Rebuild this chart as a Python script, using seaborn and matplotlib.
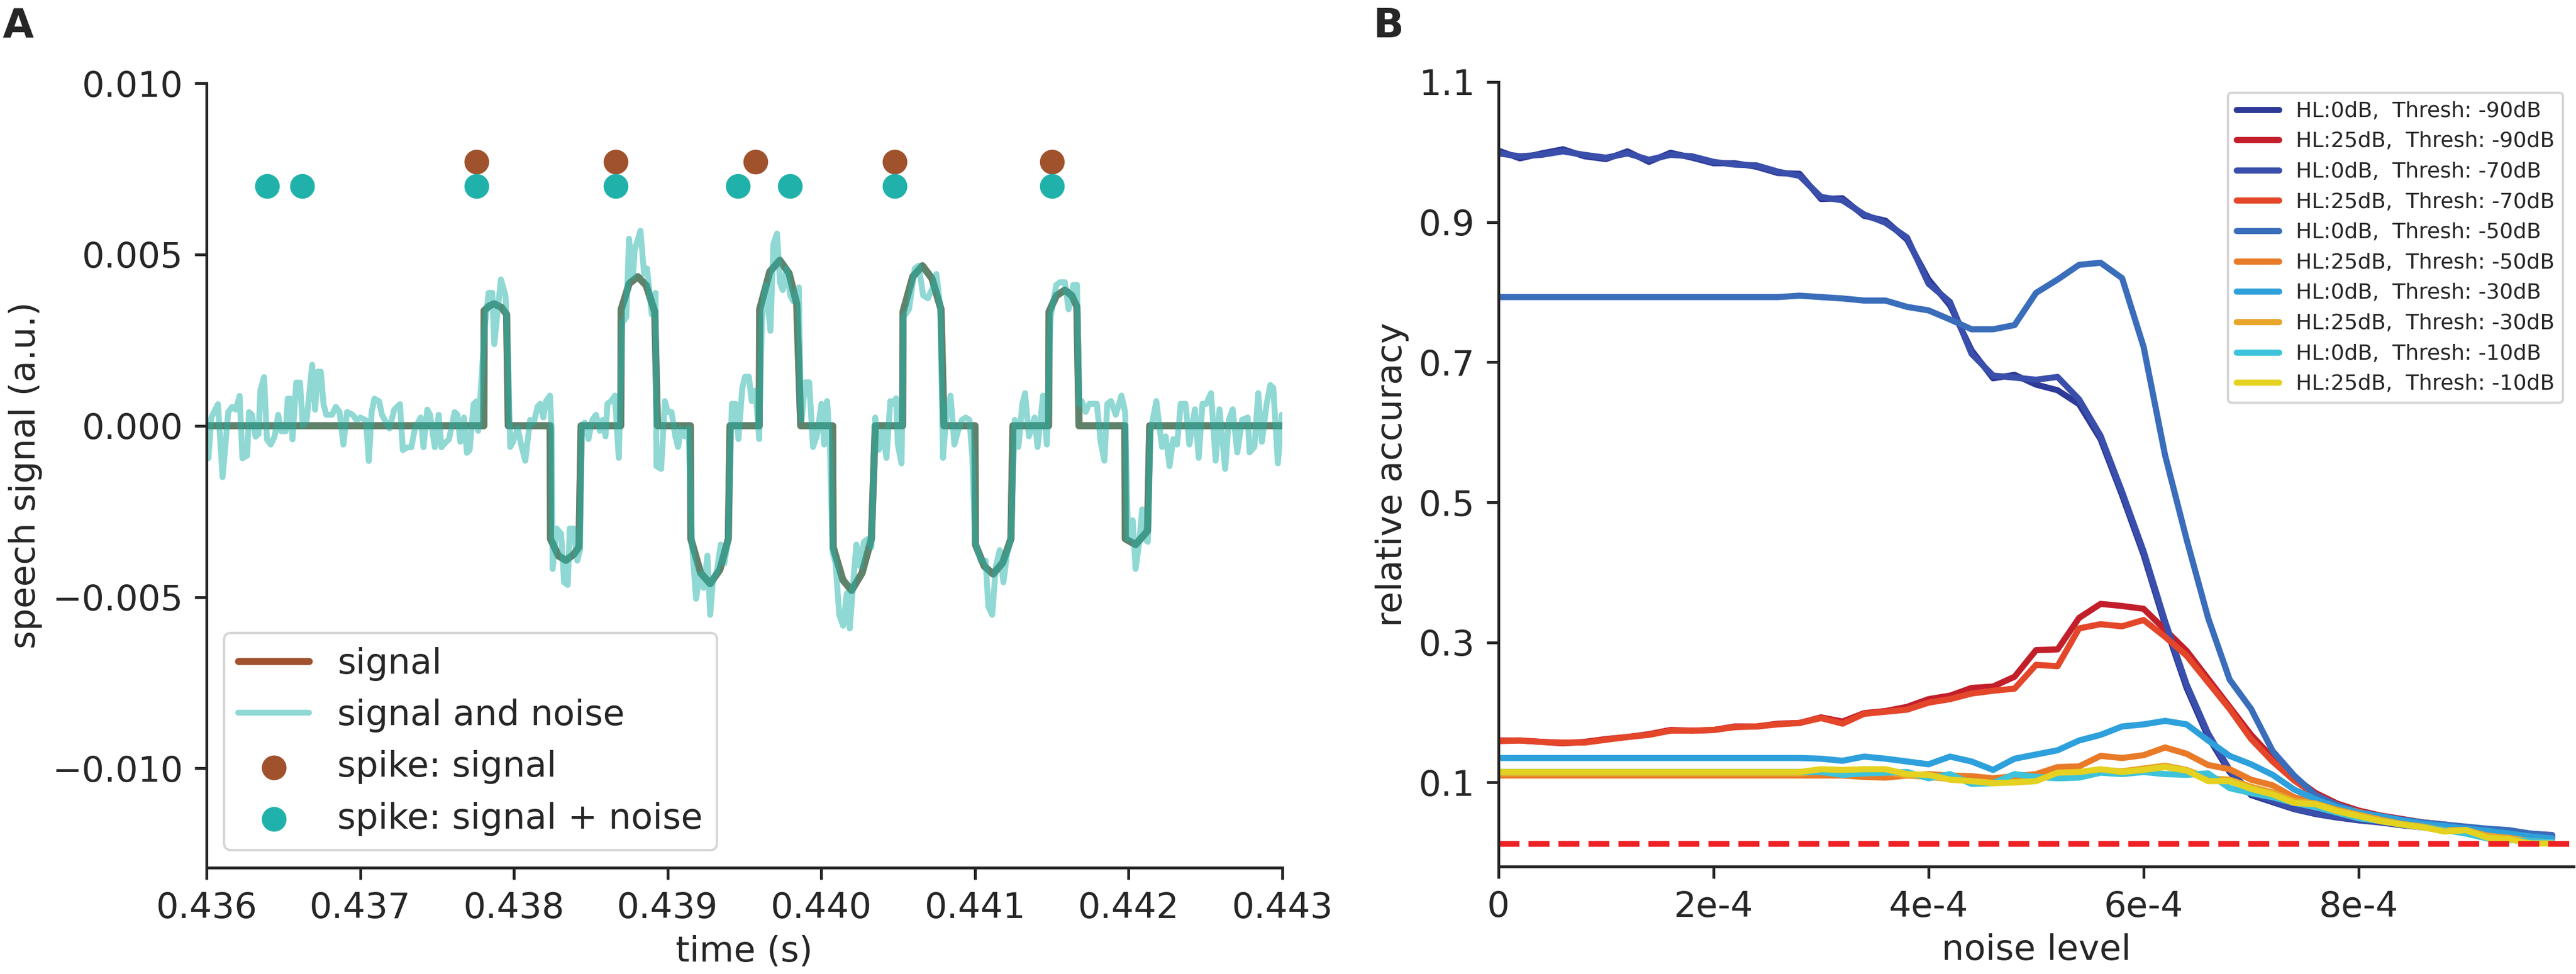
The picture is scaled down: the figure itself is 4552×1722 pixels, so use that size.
import numpy as np
import pandas as pd
import matplotlib
matplotlib.use('Agg')
import matplotlib.pyplot as plt
import seaborn as sns

# ---- panel A: speech signal (time in ms, amplitude in 1e-3 a.u.) ----
sig_t = [436.000, 437.804, 437.806, 437.840, 437.871, 437.920, 437.952, 437.963,
         438.235, 438.238, 438.290, 438.338, 438.390, 438.423, 438.437,
         438.695, 438.698, 438.750, 438.806, 438.860, 438.916, 438.934,
         439.148, 439.151, 439.215, 439.277, 439.340, 439.395, 439.406,
         439.596, 439.599, 439.665, 439.730, 439.790, 439.840, 439.866,
         440.074, 440.077, 440.140, 440.197, 440.265, 440.326, 440.351,
         440.529, 440.532, 440.595, 440.658, 440.720, 440.779, 440.798,
         441.000, 441.003, 441.060, 441.118, 441.180, 441.234, 441.247,
         441.479, 441.482, 441.530, 441.585, 441.630, 441.663, 441.677,
         441.975, 441.978, 442.045, 442.123, 442.137, 443.000]
sig_v = [0, 0, 3.36, 3.50, 3.56, 3.45, 3.25, 0,
         0, -3.31, -3.80, -3.93, -3.75, -3.54, 0,
         0, 3.40, 4.15, 4.35, 4.10, 3.33, 0,
         0, -3.30, -4.30, -4.61, -4.20, -3.30, 0,
         0, 3.40, 4.50, 4.83, 4.45, 3.56, 0,
         0, -3.54, -4.50, -4.81, -4.30, -3.30, 0,
         0, 3.33, 4.35, 4.67, 4.30, 3.40, 0,
         0, -3.47, -4.10, -4.33, -4.00, -3.30, 0,
         0, 3.33, 3.80, 3.96, 3.80, 3.48, 0,
         0, -3.30, -3.47, -3.07, 0, 0]

noisy_t = [436.000, 436.012, 436.031, 436.074, 436.104, 436.141, 436.166, 436.190, 436.215, 436.233,
           436.264, 436.276, 436.295, 436.319, 436.338, 436.350, 436.374, 436.393, 436.417, 436.442,
           436.466, 436.485, 436.515, 436.528, 436.546, 436.559, 436.583, 436.608, 436.626, 436.651,
           436.687, 436.706, 436.724, 436.743, 436.761, 436.779, 436.816, 436.841, 436.865, 436.890,
           436.914, 436.951, 436.976, 437.000, 437.037, 437.056, 437.074, 437.092, 437.123, 437.141,
           437.160, 437.190, 437.221, 437.258, 437.277, 437.307, 437.332, 437.356, 437.393, 437.411,
           437.436, 437.454, 437.485, 437.510, 437.528, 437.559, 437.577, 437.614, 437.632, 437.651,
           437.675, 437.694, 437.712, 437.737, 437.755, 437.767, 437.810, 437.835, 437.859, 437.872,
           437.915, 437.945, 437.964, 437.976, 437.994, 438.025, 438.050, 438.074, 438.105, 438.129,
           438.154, 438.172, 438.191, 438.209, 438.234, 438.246, 438.252, 438.277, 438.307, 438.326,
           438.350, 438.363, 438.387, 438.412, 438.430, 438.442, 438.461, 438.485, 438.510, 438.534,
           438.559, 438.577, 438.596, 438.608, 438.633, 438.657, 438.682, 438.706, 438.731, 438.749,
           438.774, 438.786, 438.823, 438.847, 438.866, 438.897, 438.921, 438.927, 438.958, 438.982,
           439.001, 439.025, 439.050, 439.068, 439.087, 439.111, 439.136, 439.160, 439.185, 439.209,
           439.234, 439.259, 439.277, 439.295, 439.320, 439.345, 439.369, 439.394, 439.418, 439.443,
           439.461, 439.486, 439.504, 439.529, 439.547, 439.572, 439.596, 439.614, 439.639, 439.669,
           439.688, 439.712, 439.731, 439.749, 439.774, 439.798, 439.817, 439.854, 439.866, 439.872,
           439.896, 439.921, 439.946, 439.970, 440.001, 440.019, 440.038, 440.056, 440.074, 440.093,
           440.117, 440.142, 440.166, 440.185, 440.209, 440.228, 440.252, 440.277, 440.301, 440.326,
           440.351, 440.375, 440.400, 440.424, 440.449, 440.467, 440.486, 440.498, 440.522, 440.535,
           440.571, 440.608, 440.633, 440.663, 440.694, 440.725, 440.749, 440.774, 440.792, 440.817,
           440.841, 440.866, 440.890, 440.915, 440.940, 440.964, 440.983, 441.001, 441.038, 441.069,
           441.087, 441.112, 441.136, 441.161, 441.185, 441.210, 441.234, 441.259, 441.283, 441.308,
           441.326, 441.351, 441.388, 441.407, 441.443, 441.468, 441.492, 441.529, 441.554, 441.585,
           441.609, 441.640, 441.664, 441.677, 441.695, 441.720, 441.744, 441.775, 441.793, 441.818,
           441.842, 441.861, 441.885, 441.916, 441.953, 441.977, 441.996, 442.026, 442.045, 442.069,
           442.088, 442.106, 442.125, 442.143, 442.180, 442.217, 442.241, 442.266, 442.290, 442.315,
           442.339, 442.370, 442.395, 442.431, 442.456, 442.480, 442.505, 442.536, 442.566, 442.591,
           442.628, 442.652, 442.677, 442.707, 442.738, 442.775, 442.787, 442.818, 442.843, 442.867,
           442.898, 442.922, 442.941, 442.971, 442.996]
noisy_v = [-0.60, -0.95, 0.24, 0.63, -1.50, 0.40, 0.55, 0.47, 0.87, -0.95,
           -0.87, 0.40, 0.32, -0.32, -0.24, 1.03, 1.42, -0.40, -0.55, -0.32,
           0.32, -0.16, -0.16, 0.79, 0.79, -0.40, 1.26, 1.26, 0.00, 0.16,
           1.78, 0.47, 1.58, 1.58, 0.63, 0.32, 0.32, 0.55, 0.40, -0.55,
           0.40, 0.32, 0.16, 0.24, 0.16, -1.03, 0.40, 0.79, 0.71, 0.32,
           0.16, -0.08, 0.47, 0.63, -0.71, -0.63, -0.63, -0.08, 0.24, -0.63,
           0.47, 0.32, -0.63, 0.32, -0.63, -0.47, -0.40, 0.40, 0.32, -0.47,
           0.24, -0.79, -0.71, 0.63, 0.71, -0.15, 2.85, 3.88, 3.88, 2.38,
           4.27, 3.80, 1.59, -0.62, -0.47, -0.07, -0.62, -1.02, 0.17, 0.09,
           0.56, 0.64, 0.24, 0.72, 0.88, -0.15, -4.18, -3.00, -3.15, -4.57,
           -4.65, -3.00, -3.00, -3.94, -3.63, 0.01, 0.09, -0.39, 0.17, 0.32,
           -0.15, 0.17, -0.31, 0.64, 0.72, 0.88, -0.94, 3.01, 3.17, 5.46,
           4.36, 5.14, 5.69, 4.43, 4.59, 3.25, 3.88, -1.18, -1.26, 0.72,
           0.40, 0.40, -0.31, -0.62, -0.07, -0.31, -0.07, -3.55, -5.05, -4.34,
           -4.73, -3.79, -5.52, -4.50, -4.26, -3.47, -4.02, -3.31, 0.64, 0.64,
           -0.39, 1.11, 1.43, 1.43, 0.72, 1.03, -0.39, 3.17, 4.11, 2.77,
           5.30, 5.61, 4.19, 3.96, 4.59, 3.80, 3.64, 4.04, 0.64, 0.17,
           1.27, 1.27, -0.62, -0.31, 0.64, -0.55, 0.72, -0.55, -3.71, -4.02,
           -5.52, -5.84, -4.89, -5.92, -4.50, -3.47, -4.10, -3.39, -3.31, -3.55,
           0.24, -0.70, -0.15, -0.94, 0.72, 0.64, 0.80, -0.55, -1.10, 3.17,
           3.40, 4.59, 4.67, 3.80, 3.72, 4.04, 4.43, 3.48, -0.94, 0.48,
           0.88, -0.55, -0.15, 0.17, 0.24, 0.17, -0.94, -3.39, -3.94, -3.94,
           -5.28, -5.52, -4.10, -3.63, -4.57, -3.71, -3.31, 0.17, -0.62, 0.64,
           0.95, -0.31, 0.24, -0.62, 0.88, -0.55, 3.17, 4.11, 4.19, 4.19,
           3.40, 4.11, 4.11, 0.64, 0.72, 0.40, 0.64, 0.64, 0.64, -0.47,
           -1.02, 0.64, 0.72, 0.32, 0.88, 0.40, -3.31, -2.76, -4.18, -3.39,
           -2.44, -3.31, -3.39, -0.15, 0.72, -0.62, -0.31, -1.18, -0.39, -0.55,
           0.64, 0.64, -0.55, 0.48, -0.94, 0.64, 0.64, 0.95, -1.02, 0.48,
           -1.26, 0.17, 0.48, -0.78, 0.17, 0.24, -0.78, -0.62, 0.95, -0.47,
           0.64, 1.19, 1.11, -1.10, 0.32]

spike_sig_t = [437.756, 438.662, 439.572, 440.477, 441.501]
spike_sig_y = [7.7, 7.7, 7.7, 7.7, 7.7]
spike_noise_t = [436.394, 436.622, 437.756, 438.662, 439.457, 439.796, 440.477, 441.501]
spike_noise_y = [7.0, 7.0, 7.0, 7.0, 7.0, 7.0, 7.0, 7.0]

# ---- panel B: relative accuracy vs noise level (noise level in 1e-4) ----
noise_level = [0.0, 0.2, 0.4, 0.6, 0.8, 1.0, 1.2, 1.4, 1.6, 1.8,
               2.0, 2.2, 2.4, 2.6, 2.8, 3.0, 3.2, 3.4, 3.6, 3.8,
               4.0, 4.2, 4.4, 4.6, 4.8, 5.0, 5.2, 5.4, 5.6, 5.8,
               6.0, 6.2, 6.4, 6.6, 6.8, 7.0, 7.2, 7.4, 7.6, 7.8,
               8.0, 8.2, 8.4, 8.6, 8.8, 9.0, 9.2, 9.4, 9.6, 9.8]

hl0_90 = [1.002, 0.991, 0.998, 1.004, 0.994, 0.990, 1.001, 0.986, 0.999, 0.992,
          0.984, 0.984, 0.979, 0.970, 0.969, 0.933, 0.934, 0.909, 0.902, 0.875,
          0.818, 0.781, 0.717, 0.677, 0.682, 0.668, 0.660, 0.640, 0.590, 0.510,
          0.425, 0.325, 0.235, 0.165, 0.115, 0.082, 0.072, 0.062, 0.055, 0.050,
          0.046, 0.043, 0.039, 0.036, 0.034, 0.033, 0.031, 0.030, 0.026, 0.024]
hl25_90 = [0.160, 0.160, 0.158, 0.156, 0.158, 0.162, 0.165, 0.169, 0.175, 0.174,
           0.175, 0.180, 0.180, 0.184, 0.185, 0.193, 0.187, 0.199, 0.202, 0.208,
           0.219, 0.224, 0.235, 0.237, 0.251, 0.289, 0.290, 0.335, 0.355, 0.352,
           0.348, 0.318, 0.288, 0.248, 0.208, 0.168, 0.135, 0.107, 0.085, 0.070,
           0.060, 0.053, 0.048, 0.043, 0.040, 0.036, 0.033, 0.030, 0.025, 0.022]
hl0_70 = [0.998, 0.994, 0.996, 1.001, 0.996, 0.992, 0.998, 0.989, 0.996, 0.994,
          0.986, 0.982, 0.981, 0.972, 0.966, 0.936, 0.931, 0.911, 0.899, 0.878,
          0.812, 0.786, 0.712, 0.681, 0.678, 0.675, 0.679, 0.647, 0.595, 0.515,
          0.430, 0.330, 0.240, 0.170, 0.118, 0.085, 0.074, 0.063, 0.056, 0.051,
          0.047, 0.043, 0.040, 0.037, 0.035, 0.034, 0.032, 0.031, 0.027, 0.025]
hl25_70 = [0.159, 0.160, 0.158, 0.157, 0.157, 0.161, 0.165, 0.168, 0.174, 0.174,
           0.175, 0.179, 0.180, 0.183, 0.185, 0.192, 0.184, 0.198, 0.201, 0.204,
           0.214, 0.219, 0.227, 0.231, 0.234, 0.268, 0.266, 0.320, 0.326, 0.323,
           0.332, 0.308, 0.281, 0.243, 0.205, 0.162, 0.130, 0.103, 0.082, 0.068,
           0.057, 0.051, 0.046, 0.042, 0.039, 0.035, 0.032, 0.029, 0.024, 0.021]
hl0_50 = [0.793, 0.793, 0.793, 0.793, 0.793, 0.793, 0.793, 0.793, 0.793, 0.793,
          0.793, 0.793, 0.793, 0.793, 0.795, 0.793, 0.791, 0.788, 0.788, 0.779,
          0.774, 0.761, 0.747, 0.747, 0.753, 0.799, 0.818, 0.839, 0.842, 0.820,
          0.722, 0.567, 0.447, 0.335, 0.247, 0.205, 0.145, 0.110, 0.082, 0.068,
          0.058, 0.052, 0.047, 0.043, 0.040, 0.037, 0.034, 0.032, 0.027, 0.024]
hl25_50 = [0.110, 0.110, 0.110, 0.110, 0.110, 0.110, 0.110, 0.110, 0.110, 0.110,
           0.110, 0.110, 0.110, 0.110, 0.110, 0.110, 0.110, 0.108, 0.107, 0.110,
           0.112, 0.110, 0.109, 0.106, 0.109, 0.112, 0.122, 0.123, 0.138, 0.135,
           0.139, 0.150, 0.141, 0.125, 0.119, 0.104, 0.096, 0.079, 0.071, 0.064,
           0.058, 0.050, 0.045, 0.040, 0.032, 0.032, 0.030, 0.026, 0.022, 0.020]
hl0_30 = [0.135, 0.135, 0.135, 0.135, 0.135, 0.135, 0.135, 0.135, 0.135, 0.135,
          0.135, 0.135, 0.135, 0.135, 0.135, 0.134, 0.131, 0.137, 0.134, 0.130,
          0.126, 0.137, 0.130, 0.118, 0.134, 0.140, 0.146, 0.160, 0.168, 0.180,
          0.183, 0.188, 0.183, 0.160, 0.138, 0.126, 0.111, 0.090, 0.076, 0.065,
          0.057, 0.052, 0.046, 0.041, 0.038, 0.034, 0.031, 0.027, 0.023, 0.020]
hl25_30 = [0.113, 0.113, 0.113, 0.113, 0.113, 0.113, 0.113, 0.113, 0.113, 0.113,
           0.113, 0.113, 0.113, 0.113, 0.113, 0.116, 0.115, 0.116, 0.115, 0.110,
           0.108, 0.105, 0.102, 0.100, 0.101, 0.104, 0.112, 0.113, 0.118, 0.116,
           0.120, 0.124, 0.118, 0.106, 0.104, 0.094, 0.086, 0.074, 0.070, 0.061,
           0.054, 0.047, 0.041, 0.037, 0.032, 0.032, 0.024, 0.021, 0.016, 0.015]
hl0_10 = [0.115, 0.115, 0.115, 0.115, 0.115, 0.115, 0.115, 0.115, 0.115, 0.115,
          0.115, 0.115, 0.115, 0.115, 0.115, 0.115, 0.111, 0.113, 0.114, 0.115,
          0.106, 0.112, 0.098, 0.099, 0.112, 0.108, 0.106, 0.107, 0.114, 0.112,
          0.115, 0.112, 0.111, 0.113, 0.092, 0.085, 0.079, 0.071, 0.065, 0.057,
          0.049, 0.045, 0.040, 0.036, 0.032, 0.027, 0.020, 0.018, 0.016, 0.015]
hl25_10 = [0.115, 0.115, 0.115, 0.115, 0.115, 0.115, 0.115, 0.115, 0.115, 0.115,
           0.115, 0.115, 0.115, 0.115, 0.115, 0.119, 0.118, 0.119, 0.119, 0.112,
           0.111, 0.104, 0.102, 0.099, 0.100, 0.102, 0.114, 0.115, 0.119, 0.115,
           0.118, 0.122, 0.117, 0.102, 0.102, 0.091, 0.083, 0.071, 0.069, 0.059,
           0.052, 0.045, 0.040, 0.036, 0.030, 0.032, 0.021, 0.019, 0.013, 0.013]

conditions = ['HL:0dB,  Thresh: -90dB', 'HL:25dB,  Thresh: -90dB',
              'HL:0dB,  Thresh: -70dB', 'HL:25dB,  Thresh: -70dB',
              'HL:0dB,  Thresh: -50dB', 'HL:25dB,  Thresh: -50dB',
              'HL:0dB,  Thresh: -30dB', 'HL:25dB,  Thresh: -30dB',
              'HL:0dB,  Thresh: -10dB', 'HL:25dB,  Thresh: -10dB']
accuracy = [hl0_90, hl25_90, hl0_70, hl25_70, hl0_50, hl25_50, hl0_30, hl25_30, hl0_10, hl25_10]
line_colors = ['#2e3a97', '#c21f2b', '#3a4fab', '#e4462a', '#3a6dba',
               '#e87a28', '#2ea0dc', '#e9a42a', '#3ec3da', '#e4d120']
chance_level = 0.0125

x_ticks = [0, 2e-4, 4e-4, 6e-4, 8e-4]
x_ticklabels = ['0', '2e-4', '4e-4', '6e-4', '8e-4']

sns.set_style('ticks')
plt.rcParams.update({'font.size': 15, 'axes.labelsize': 15, 'xtick.labelsize': 15,
                     'ytick.labelsize': 15, 'axes.linewidth': 1.2,
                     'xtick.major.width': 1.2, 'ytick.major.width': 1.2,
                     'xtick.major.size': 5, 'ytick.major.size': 5,
                     'xtick.major.pad': 5, 'ytick.major.pad': 5})
plt.rcParams['font.family'] = ['DejaVu Sans']

fig = plt.figure(figsize=(4552 / 300, 1722 / 300), dpi=300)
ax1 = fig.add_axes([0.0802, 0.1092, 0.4176, 0.8054])
ax2 = fig.add_axes([0.5817, 0.1103, 0.4174, 0.8055])

# panel A
t_sig = np.array(sig_t) / 1000
v_sig = np.array(sig_v) / 1000
sns.lineplot(x=t_sig, y=v_sig, color='sienna', lw=3, label='signal',
             estimator=None, sort=False, ax=ax1)
sns.lineplot(x=np.array(noisy_t) / 1000, y=np.array(noisy_v) / 1000, color='lightseagreen',
             alpha=0.5, lw=2.5, label='signal and noise', estimator=None, sort=False, ax=ax1)
sns.lineplot(x=t_sig, y=v_sig, color='lightseagreen', alpha=0.5, lw=3, label='_nolegend_',
             estimator=None, sort=False, ax=ax1)
sns.scatterplot(x=np.array(spike_sig_t) / 1000, y=np.array(spike_sig_y) / 1000,
                color='sienna', s=110, linewidth=0, label='spike: signal', ax=ax1)
sns.scatterplot(x=np.array(spike_noise_t) / 1000, y=np.array(spike_noise_y) / 1000,
                color='lightseagreen', s=110, linewidth=0, label='spike: signal + noise', ax=ax1)

ax1.set_xlim(0.436, 0.443)
ax1.set_ylim(-0.0129, 0.010)
ax1.set_yticks([-0.010, -0.005, 0.0, 0.005, 0.010])
ax1.set_xticks([0.436, 0.437, 0.438, 0.439, 0.440, 0.441, 0.442, 0.443])
ax1.set_xlabel('time (s)')
ax1.set_ylabel('speech signal (a.u.)')
handles, labels = ax1.get_legend_handles_labels()
ax1.legend(handles, labels, loc='lower left', fontsize=15)

# panel B
for name, acc, col in zip(conditions, accuracy, line_colors):
    sns.lineplot(x=np.array(noise_level) * 1e-4, y=acc, color=col, lw=2.6, label=name,
                 estimator=None, sort=False, ax=ax2)
ax2.axhline(chance_level, color='#ee2024', ls='--', lw=2.4)
ax2.set_xlim(0, 0.001)
ax2.set_ylim(-0.02, 1.1)
ax2.set_xticks(x_ticks)
ax2.set_xticklabels(x_ticklabels)
ax2.set_yticks([0.1, 0.3, 0.5, 0.7, 0.9, 1.1])
ax2.set_xlabel('noise level')
ax2.set_ylabel('relative accuracy')
ax2.legend(loc='upper right', fontsize=9, labelspacing=0.47)

sns.despine(fig=fig)

fig.text(0.001, 0.993, 'A', fontsize=17, fontweight='bold', va='top', ha='left')
fig.text(0.533, 0.993, 'B', fontsize=17, fontweight='bold', va='top', ha='left')

fig.savefig('out.png', dpi=300)
